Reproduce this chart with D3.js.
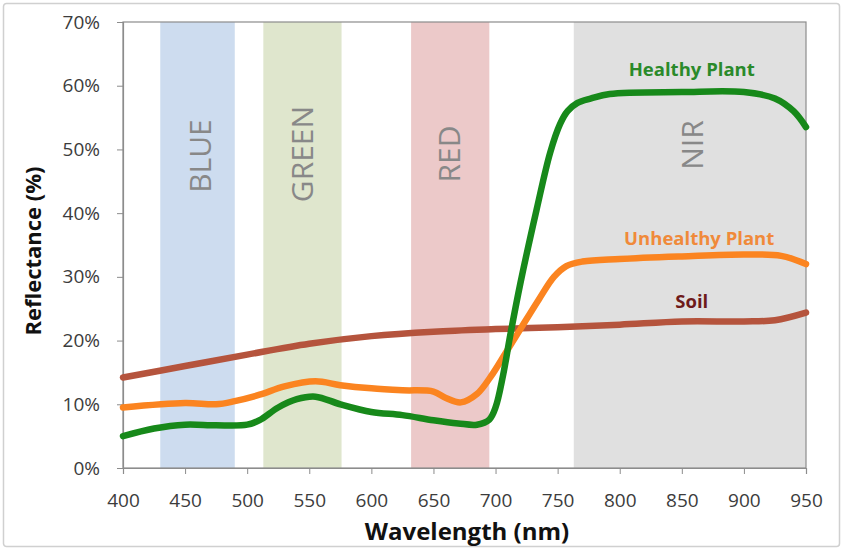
<!DOCTYPE html>
<html>
<head>
<meta charset="utf-8">
<script src="https://cdn.jsdelivr.net/npm/d3@7"></script>
<style>
  body { margin: 0; background: #fff; }
  text { font-family: "Open Sans", "Lato", sans-serif; }
</style>
</head>
<body>
<div id="chart"></div>
<script>
// wavelengths (nm) and reflectance (%)
var healthyX = [400, 425, 450, 475, 500, 510, 525, 540, 555, 575, 600, 625, 650, 670, 685, 695, 700, 706, 712, 720, 733, 744, 752, 758, 766, 777, 792, 850, 900, 925, 940, 950];
var healthyY = [5, 6.2, 6.8, 6.7, 6.8, 7.5, 9.5, 10.8, 11.2, 10, 8.8, 8.3, 7.5, 7.0, 6.8, 7.6, 9.5, 14.5, 21, 29, 40.5, 49.5, 54, 56, 57.3, 58, 58.7, 59, 59, 58, 56, 53.5];

var unhealthyX = [400, 450, 475, 490, 510, 530, 555, 575, 600, 625, 650, 660, 672, 685, 696, 708, 720, 735, 747, 757, 770, 800, 850, 900, 930, 950];
var unhealthyY = [9.5, 10.2, 10, 10.5, 11.5, 12.8, 13.6, 13, 12.5, 12.2, 12, 11, 10.3, 11.6, 14.3, 18, 21.8, 26.5, 30, 31.7, 32.4, 32.8, 33.2, 33.5, 33.3, 32];

var soilX = [400, 450, 500, 550, 600, 650, 700, 750, 800, 850, 900, 925, 950];
var soilY = [14.2, 16, 17.8, 19.5, 20.7, 21.4, 21.8, 22.1, 22.5, 23, 23, 23.2, 24.4];

var bandNames = ["BLUE", "GREEN", "RED", "NIR"];
var bandStart = [430, 513, 632, 763];
var bandEnd = [490, 576, 695, 950];
var bandColors = ["#cddcef", "#dfe6cd", "#ecc9c9", "#e0e0e0"];

var xTicks = [400, 450, 500, 550, 600, 650, 700, 750, 800, 850, 900, 950];
var yTicks = [0, 10, 20, 30, 40, 50, 60, 70];

var W = 843, H = 550;
var margin = { left: 123, right: 37, top: 22, bottom: 82 };

var svg = d3.select("#chart").append("svg")
    .attr("width", W)
    .attr("height", H);

// outer frame
svg.append("rect")
    .attr("x", 3.5).attr("y", 3.5)
    .attr("width", W - 7).attr("height", H - 7)
    .attr("rx", 3)
    .attr("fill", "#fff")
    .attr("stroke", "#d0d0d0")
    .attr("stroke-width", 1.5);

var x = d3.scaleLinear().domain([400, 950]).range([margin.left, W - margin.right]);
var y = d3.scaleLinear().domain([0, 70]).range([H - margin.bottom, margin.top]);

// spectral bands
var bands = bandNames.map(function(n, i) {
    return { name: n, x0: bandStart[i], x1: bandEnd[i], color: bandColors[i] };
});

svg.selectAll(".band")
    .data(bands)
    .enter()
    .append("rect")
    .attr("class", "band")
    .attr("x", function(d) { return x(d.x0); })
    .attr("y", y(70))
    .attr("width", function(d) { return x(d.x1) - x(d.x0); })
    .attr("height", y(0) - y(70))
    .attr("fill", function(d) { return d.color; });

var labelY = [156, 154, 154, 145];
var labelDx = [13, 11, 10, 13];
svg.selectAll(".bandLabel")
    .data(bands)
    .enter()
    .append("text")
    .attr("class", "bandLabel")
    .attr("transform", function(d, i) {
        return "translate(" + (x((d.x0 + d.x1) / 2) + labelDx[i]) + "," + labelY[i] + ") rotate(-90)";
    })
    .attr("text-anchor", "middle")
    .attr("font-size", 30)
    .attr("fill", "#888")
    .text(function(d) { return d.name; });

// plot area border
svg.append("rect")
    .attr("x", x(400)).attr("y", y(70))
    .attr("width", x(950) - x(400)).attr("height", y(0) - y(70))
    .attr("fill", "none")
    .attr("stroke", "#8c8c8c")
    .attr("stroke-width", 1.2);

// axes
var xAxis = svg.append("g")
    .attr("transform", "translate(0," + y(0) + ")")
    .call(d3.axisBottom(x).tickValues(xTicks).tickSizeOuter(0).tickSize(6).tickPadding(20));
var yAxis = svg.append("g")
    .attr("transform", "translate(" + x(400) + ",0)")
    .call(d3.axisLeft(y).tickValues(yTicks).tickSizeOuter(0).tickSize(6).tickPadding(17)
        .tickFormat(function(d) { return d + "%"; }));

[xAxis, yAxis].forEach(function(a) {
    a.select(".domain").attr("stroke", "#8c8c8c").attr("stroke-width", 1.2);
    a.selectAll(".tick line").attr("stroke", "#8c8c8c");
    a.selectAll(".tick text")
        .attr("font-size", 19)
        .attr("fill", "#3c3c3c")
        .attr("font-family", "Open Sans, sans-serif");
});

svg.append("text")
    .attr("x", 467)
    .attr("y", 540)
    .attr("text-anchor", "middle")
    .attr("font-size", 24)
    .attr("font-weight", "bold")
    .attr("fill", "#111")
    .text("Wavelength (nm)");

svg.append("text")
    .attr("transform", "translate(41,251) rotate(-90)")
    .attr("text-anchor", "middle")
    .attr("font-size", 22)
    .attr("font-weight", "bold")
    .attr("fill", "#111")
    .text("Reflectance (%)");

// curves
var line = d3.line()
    .x(function(d) { return x(d[0]); })
    .y(function(d) { return y(d[1]); })
    .curve(d3.curveCatmullRom.alpha(0.5));

var series = [
    { xs: soilX, ys: soilY, color: "#b5543d" },
    { xs: unhealthyX, ys: unhealthyY, color: "#fb8420" },
    { xs: healthyX, ys: healthyY, color: "#17891a" }
];

svg.selectAll(".curve")
    .data(series)
    .enter()
    .append("path")
    .attr("class", "curve")
    .attr("d", function(s) { return line(d3.zip(s.xs, s.ys)); })
    .attr("fill", "none")
    .attr("stroke", function(s) { return s.color; })
    .attr("stroke-width", 6.5)
    .attr("stroke-linecap", "round")
    .attr("stroke-linejoin", "round");

// series labels
var labels = [
    { text: "Healthy Plant", x: 858, v: 61.5, color: "#2a8a2a" },
    { text: "Unhealthy Plant", x: 864, v: 35.0, color: "#f08a3a" },
    { text: "Soil", x: 858, v: 25.1, color: "#6e1a1a" }
];
svg.selectAll(".seriesLabel")
    .data(labels)
    .enter()
    .append("text")
    .attr("class", "seriesLabel")
    .attr("x", function(d) { return x(d.x); })
    .attr("y", function(d) { return y(d.v); })
    .attr("text-anchor", "middle")
    .attr("font-size", 18.5)
    .attr("font-weight", "bold")
    .attr("fill", function(d) { return d.color; })
    .text(function(d) { return d.text; });
</script>
</body>
</html>
